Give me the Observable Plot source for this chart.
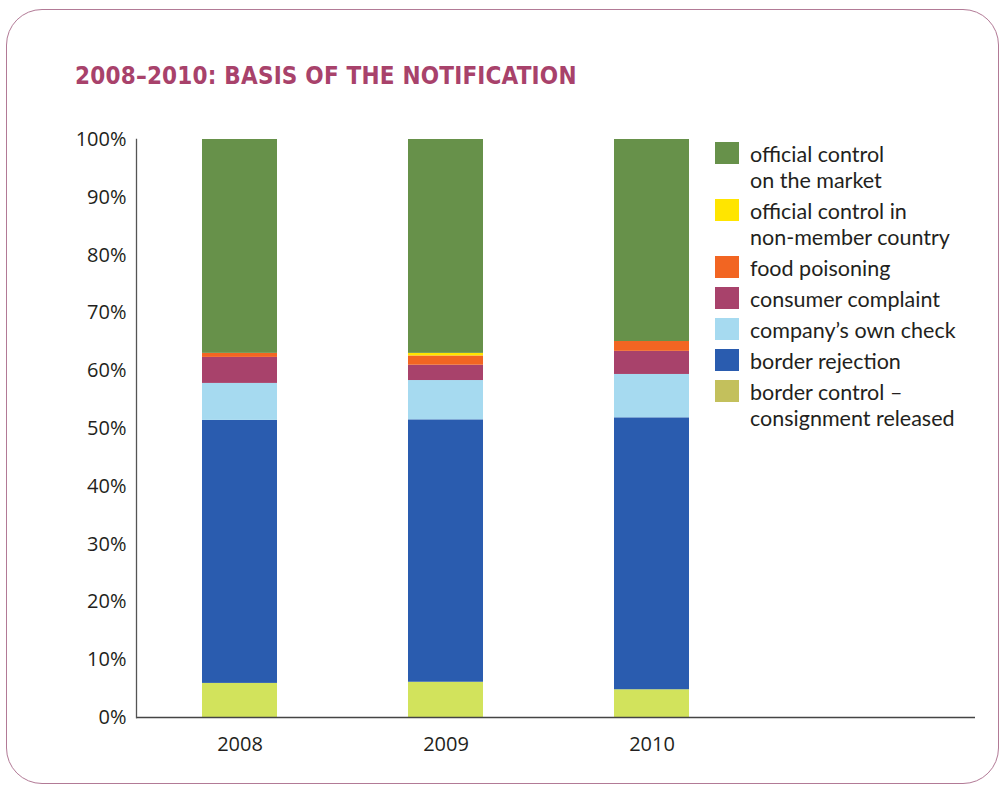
<!DOCTYPE html>
<html>
<head>
<meta charset="utf-8">
<script src="https://cdn.jsdelivr.net/npm/d3@7"></script>
<script src="https://cdn.jsdelivr.net/npm/@observablehq/plot@0.6"></script>
<style>
  html, body { margin: 0; padding: 0; background: #fff; }
  #wrap { position: relative; width: 1004px; height: 790px; overflow: hidden; font-family: "Open Sans", sans-serif; color: #231f20; }
  #border { position: absolute; left: 6px; top: 9px; width: 993px; height: 775px; border: 1.5px solid #b27a96; border-radius: 36px; box-sizing: border-box; }
  #title { position: absolute; left: 75px; top: 62px; font-family: "DejaVu Sans Condensed", "DejaVu Sans", sans-serif; font-weight: bold; font-size: 24px; color: #a8426b; letter-spacing: 0.2px; white-space: nowrap; }
  #chart { position: absolute; left: 0; top: 0; }
  #legend { position: absolute; left: 715px; top: 141px; font-family: Lato, "Open Sans", sans-serif; }
  .item { position: relative; padding-left: 35px; font-size: 21.5px; line-height: 26px; margin-bottom: 5px; white-space: nowrap; }
  .sw { position: absolute; left: 0; top: 1px; width: 24px; height: 22px; }
</style>
</head>
<body>
<div id="wrap">
  <div id="border"></div>
  <div id="title">2008–2010: BASIS OF THE NOTIFICATION</div>
  <div id="chart"></div>
  <div id="legend"></div>
</div>
<script>
// Data (percent of notifications), stacked bottom to top
const years = ["2008", "2009", "2010"];
const categories = [
  "border control – consignment released",
  "border rejection",
  "company’s own check",
  "consumer complaint",
  "food poisoning",
  "official control in non-member country",
  "official control on the market"
];
const borderControlReleased = [5.9, 6.1, 4.8];
const borderRejection = [45.5, 45.4, 47.05];
const companyOwnCheck = [6.4, 6.8, 7.5];
const consumerComplaint = [4.5, 2.65, 4.0];
const foodPoisoning = [0.7, 1.6, 1.7];
const officialNonMember = [0, 0.45, 0];
const officialMarket = [37.0, 37.0, 34.95];
const yTicks = [0, 10, 20, 30, 40, 50, 60, 70, 80, 90, 100];

const barColors = ["#d2e35c", "#2a5caf", "#a6daf0", "#a8426b", "#f26522", "#ffe500", "#67914a"];
const legendColors = ["#c3c05c", "#2a5caf", "#a6daf0", "#a8426b", "#f26522", "#ffe500", "#67914a"];
const legendLabels = [
  ["border control –", "consignment released"],
  ["border rejection"],
  ["company’s own check"],
  ["consumer complaint"],
  ["food poisoning"],
  ["official control in", "non-member country"],
  ["official control", "on the market"]
];

const series = [borderControlReleased, borderRejection, companyOwnCheck, consumerComplaint, foodPoisoning, officialNonMember, officialMarket];
const rows = [];
categories.forEach((c, i) => years.forEach((y, j) => rows.push({year: y, category: c, value: series[i][j]})));

const chart = Plot.plot({
  width: 1004,
  height: 790,
  marginLeft: 136,
  marginRight: 29,
  marginTop: 139,
  marginBottom: 73,
  style: {fontFamily: "'Open Sans', sans-serif", fontSize: "20px", color: "#231f20", background: "transparent"},
  x: {domain: years, range: [136, 755], paddingInner: 0.636, paddingOuter: 0.32, label: null},
  y: {domain: [0, 100], label: null},
  color: {domain: categories, range: barColors},
  marks: [
    Plot.barY(rows, {x: "year", y: "value", fill: "category"}),
    Plot.axisY({ticks: yTicks, tickSize: 0, tickPadding: 10, tickFormat: d => d + "%", fontSize: 20}),
    Plot.axisX({tickSize: 0, tickPadding: 19, fontSize: 20}),
    Plot.ruleY([0], {stroke: "#444", strokeWidth: 1.3}),
    Plot.frame({anchor: "left", stroke: "#555", strokeWidth: 1.3})
  ]
});
document.getElementById("chart").appendChild(chart);

const legend = document.getElementById("legend");
for (let i = categories.length - 1; i >= 0; i--) {
  const item = document.createElement("div");
  item.className = "item";
  const sw = document.createElement("div");
  sw.className = "sw";
  sw.style.background = legendColors[i];
  item.appendChild(sw);
  legendLabels[i].forEach(line => {
    const l = document.createElement("div");
    l.textContent = line;
    item.appendChild(l);
  });
  legend.appendChild(item);
}
</script>
</body>
</html>
